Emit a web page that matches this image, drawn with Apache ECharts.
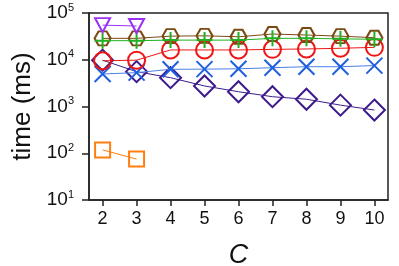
<!DOCTYPE html>
<html><head><meta charset="utf-8">
<script src="https://cdn.jsdelivr.net/npm/echarts@6/dist/echarts.min.js"></script>
<style>html,body{margin:0;padding:0;background:#fff}#c{width:399px;height:266px}</style>
</head><body><div id="c"></div>
<script>
const cValues = [2, 3, 4, 5, 6, 7, 8, 9, 10];
const yTicks = [10, 100, 1000, 10000, 100000];
const triangleVals = [55000, 52700, null, null, null, null, null, null, null];
const hexagonVals = [28700, 28700, 32000, 32500, 31000, 35500, 33800, 32000, 29600];
const plusVals = [25600, 25600, 26300, 26300, 26300, 28700, 28700, 28000, 27400];
const circleVals = [9500, 9800, 16200, 16200, 16200, 16700, 17000, 17600, 18400];
const crossVals = [4950, 5300, 6250, 6300, 6400, 6760, 7100, 7100, 7500];
const diamondVals = [9800, 5560, 4130, 2750, 2070, 1620, 1430, 1070, 840];
const squareVals = [118, 75, null, null, null, null, null, null, null];

function pairs(vals) {
  return cValues.map((c, i) => [c, vals[i]]).filter(p => p[1] != null);
}
function mk(name, vals, color, symbol, size, lineColor, z) {
  return {
    name, type: 'line', data: pairs(vals), z: z,
    symbol, symbolSize: size,
    lineStyle: { color: lineColor || color, width: 1 },
    itemStyle: { color: 'none', borderColor: color, borderWidth: 2 },
    emphasis: { disabled: true }, animation: false
  };
}
const font = '"Liberation Sans", Arial, Helvetica, sans-serif';
const chart = echarts.init(document.getElementById('c'), null, { renderer: 'canvas' });
chart.setOption({
  animation: false,
  grid: { left: 89, right: 11, top: 13, bottom: 66, outerBoundsMode: 'none', containLabel: false, show: true, borderColor: '#222', borderWidth: 1.5, backgroundColor: 'transparent' },
  xAxis: {
    type: 'value', min: 1.6, max: 10.4,
    name: 'C', nameLocation: 'middle', nameGap: 42,
    nameTextStyle: { fontFamily: font, fontSize: 27, fontStyle: 'italic', color: '#111' },
    axisLine: { show: true, lineStyle: { color: '#222', width: 1.5 } },
    axisTick: { show: true, length: 6, lineStyle: { color: '#222', width: 1.5 }, customValues: cValues },
    axisLabel: { margin: 10, fontFamily: font, fontSize: 18, color: '#111', customValues: cValues },
    splitLine: { show: false }
  },
  yAxis: {
    type: 'log', logBase: 10, min: 10, max: 100000,
    name: 'time (ms)', nameLocation: 'middle', nameGap: 47,
    nameTextStyle: { fontFamily: font, fontSize: 26, color: '#111' },
    axisLine: { show: true, lineStyle: { color: '#222', width: 1.5 } },
    axisTick: { show: true, length: 7, lineStyle: { color: '#222', width: 1.5 }, customValues: yTicks },
    axisLabel: {
      margin: 15, fontFamily: font, color: '#111', customValues: yTicks,
      formatter: v => '{b|10}{s|' + Math.round(Math.log10(v)) + '}',
      rich: {
        b: { fontFamily: font, fontSize: 19, lineHeight: 22, color: '#111' },
        s: { fontFamily: font, fontSize: 11, lineHeight: 11, verticalAlign: 'top', color: '#111' }
      }
    },
    splitLine: { show: false }, minorTick: { show: false }
  },
  series: [
    mk('square', squareVals, '#ff7f0e', 'rect', 15, null, 2),
    mk('diamond', diamondVals, '#3d1a8c', 'diamond', 21, null, 3),
    mk('cross', crossVals, '#1f5fe0', 'path://M0,0 L10,10 M10,0 L0,10', 16, '#4a7fe8', 4),
    mk('circle', circleVals, '#ee1515', 'circle', 17, null, 5),
    mk('hexagon', hexagonVals, '#7a4a12', 'path://M0,8.66 L5,0 L15,0 L20,8.66 L15,17.32 L5,17.32 Z', [16, 14], null, 6),
    mk('plus', plusVals, '#22b022', 'path://M5,0 L5,10 M0,5 L10,5', 16, null, 7),
    mk('triangle', triangleVals, '#9a32f5', 'path://M0,0 L10,0 L5,9 Z', [15, 14], null, 8)
  ]
});
</script></body></html>
